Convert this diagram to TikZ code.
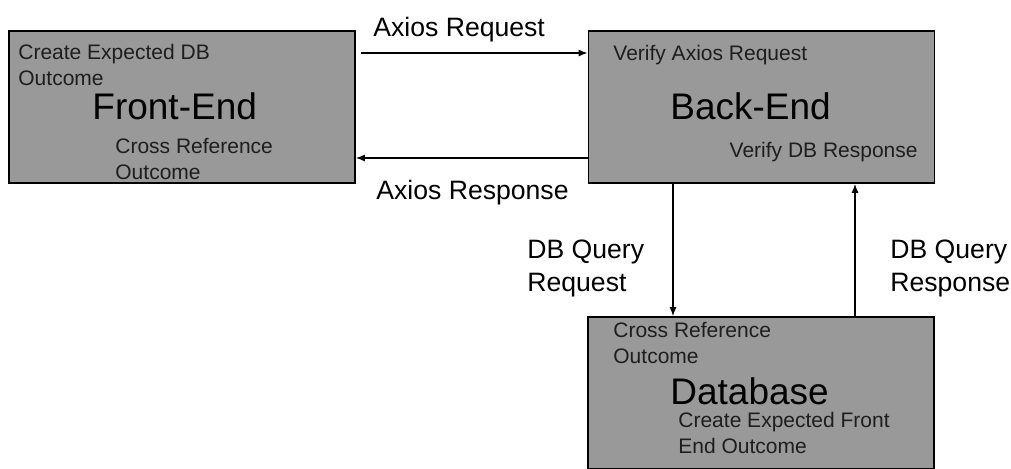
\documentclass[tikz,border=0pt]{standalone}
\usepackage{fontspec}
\setmainfont{Liberation Sans}
\usepackage{xcolor}
\usetikzlibrary{arrows.meta, calc}
\definecolor{boxgray}{RGB}{153,153,153}
\definecolor{notegray}{RGB}{30,30,30}
\tikzset{
  block/.style={
    rectangle, draw=black, fill=boxgray, line width=0.8pt,
    minimum width=173pt, minimum height=76pt, inner sep=0pt
  },
  title/.style={
    anchor=north west, inner sep=0pt, font=\fontsize{18.5}{20}\selectfont,
    text=black
  },
  note/.style={
    anchor=north west, inner sep=0pt, align=left,
    font=\fontsize{10.5}{13}\selectfont, text=notegray
  },
  flowlabel/.style={
    anchor=north west, inner sep=0pt, align=left,
    font=\fontsize{13.3}{16.5}\selectfont, text=black
  },
  arrow/.style={-{Latex[length=4.5pt, width=3.5pt]}, line width=0.7pt, color=black}
}

\begin{document}
\begin{tikzpicture}[x=0.5pt, y=-0.5pt]
  \useasboundingbox (0,0) rectangle (1011,468);
  \clip (0,0) rectangle (1011,468);

  % Blocks
  \node[block] (fe) at (182, 107) {};
  \node[block] (be) at (761.5, 107) {};
  \node[block] (db) at (761, 393) {};

  % Front-End
  \node[note]  (fenote1) at (18, 44)  {Create Expected DB\\Outcome};
  \node[title] (fetitle) at (92, 92)  {Front-End};
  \node[note]  (fenote2) at (115, 138) {Cross Reference\\Outcome};

  % Back-End
  \node[note]  (benote1) at (613, 45) {Verify Axios Request};
  \node[title] (betitle) at (670, 92) {Back-End};
  \node[note, anchor=north east] (benote2) at (918, 142) {Verify DB Response};

  % Database
  \node[note]  (dbnote1) at (613, 322) {Cross Reference\\Outcome};
  \node[title] (dbtitle) at (670, 377) {Database};
  \node[note]  (dbnote2) at (678, 412) {Create Expected Front\\End Outcome};

  % Connectors
  \draw[arrow] ([xshift=2.5pt, yshift=27pt]fe.east) -- ([yshift=27pt]be.west);
  \draw[arrow] ([yshift=-25.5pt]be.west) -- ([yshift=-25.5pt]fe.east);
  \draw[arrow] ([xshift=-44.25pt]be.south) -- ([xshift=-44.25pt]be.south |- db.north);
  \draw[arrow] ([xshift=47pt]db.north) -- ([xshift=47pt]db.north |- be.south);

  % Labels
  \node[flowlabel] (reqlabel) at (373, 17)  {Axios Request};
  \node[flowlabel] (reslabel) at (376, 180) {Axios Response};
  \node[flowlabel] (dbreq)    at (527, 240) {DB Query\\Request};
  \node[flowlabel] (dbres)    at (890, 240) {DB Query\\Response};
\end{tikzpicture}
\end{document}
